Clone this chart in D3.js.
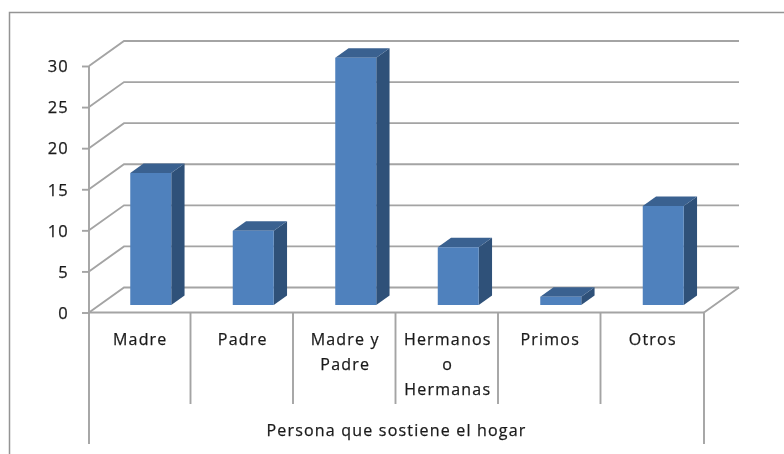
<!DOCTYPE html>
<html><head><meta charset="utf-8">
<script src="https://cdn.jsdelivr.net/npm/d3@7/dist/d3.min.js"></script>
<style>
html,body{margin:0;padding:0;background:#fff;overflow:hidden}
svg{display:block;filter:blur(0.4px)}
text{font-family:"Open Sans",sans-serif;fill:#1a1a1a;stroke:#1a1a1a;stroke-width:0.25px;letter-spacing:1.2px}
</style></head><body>
<svg id="c" width="784" height="454"></svg>
<script>
const categories = ["Madre","Padre","Madre y|Padre","Hermanos|o|Hermanas","Primos","Otros"];
const values = [16,9,30,7,1,12];
const yTicks = [0,5,10,15,20,25,30];
const axisTitle = "Persona que sostiene el hogar";

const svg = d3.select("#c");
const x = d3.scaleBand().domain(categories).range([89,704]);
const y = d3.scaleLinear().domain([0,30]).range([312.5,66]);
// oblique projection of the 3-D box: depth 0 = front, 1 = back wall
const depth = d3.scaleLinear().domain([0,1]).range([0,35]);
const lift = d3.scaleLinear().domain([0,1]).range([0,-25]);
const zFront = 0.30, zBack = 0.68, heightScale = 247.3/246.5;
const grid = "#a4a4a4";

// chart frame
svg.append("path").attr("d","M9.5,454V12.5H784").attr("fill","none").attr("stroke","#949494").attr("stroke-width",1.5);

// walls
const g = svg.append("g").attr("fill","none").attr("stroke",grid).attr("stroke-width",1.9);
yTicks.forEach(t=>{
  g.append("path").attr("d",d3.line()([[89,y(t)],[89+depth(1),y(t)+lift(1)],[704+depth(1),y(t)+lift(1)]]));
});
g.append("path").attr("d",d3.line()([[704,y(0)],[704+depth(1),y(0)+lift(1)]]));

// bars
const px = (xv,z)=>xv+depth(z);
const py = (v,z)=>y(0)+(y(v)-y(0))*heightScale+lift(z);
const bars = svg.append("g").selectAll("g").data(categories).join("g");
const bx0 = c=>x(c)+x.bandwidth()*0.3, bx1 = c=>x(c)+x.bandwidth()*0.7;
const poly = pts=>d3.line()(pts)+"Z";
bars.append("path").attr("fill","#2f5179").attr("d",(c,i)=>poly([
  [px(bx1(c),zFront),py(values[i],zFront)],[px(bx1(c),zBack),py(values[i],zBack)],
  [px(bx1(c),zBack),py(0,zBack)],[px(bx1(c),zFront),py(0,zFront)]]));
bars.append("path").attr("fill","#3a6190").attr("d",(c,i)=>poly([
  [px(bx0(c),zFront),py(values[i],zFront)],[px(bx0(c),zBack),py(values[i],zBack)],
  [px(bx1(c),zBack),py(values[i],zBack)],[px(bx1(c),zFront),py(values[i],zFront)]]));
bars.append("path").attr("fill","#4f81bd").attr("d",(c,i)=>poly([
  [px(bx0(c),zFront),py(values[i],zFront)],[px(bx1(c),zFront),py(values[i],zFront)],
  [px(bx1(c),zFront),py(0,zFront)],[px(bx0(c),zFront),py(0,zFront)]]));

// value axis
const ya = svg.append("g").attr("transform","translate(89,0)")
  .call(d3.axisLeft(y).tickValues(yTicks).tickSize(7).tickPadding(13).tickFormat(d3.format("d")));
ya.select(".domain").remove();
ya.selectAll("line").attr("stroke",grid).attr("stroke-width",1.9);
ya.selectAll("text").attr("font-size",16.5).attr("y",0.5).style("font-family",'"Open Sans",sans-serif').attr("fill","#1a1a1a");

// category axis
const a = svg.append("g").attr("fill","none").attr("stroke",grid).attr("stroke-width",1.9);
a.append("path").attr("d",`M89,${y(30)}V444M89,${y(0)}H704M704,${y(0)}V444`);
categories.slice(1).forEach(c=>a.append("path").attr("d",`M${x(c)-1},${y(0)}V404`));

const lab = svg.append("g").attr("text-anchor","middle").attr("font-size",16);
categories.forEach(c=>{
  c.split("|").forEach((s,i)=>lab.append("text")
    .attr("x",x(c)+x.bandwidth()/2).attr("y",345+i*25).text(s));
});
lab.append("text").attr("x",(89+704)/2).attr("y",436).text(axisTitle);
</script></body></html>
